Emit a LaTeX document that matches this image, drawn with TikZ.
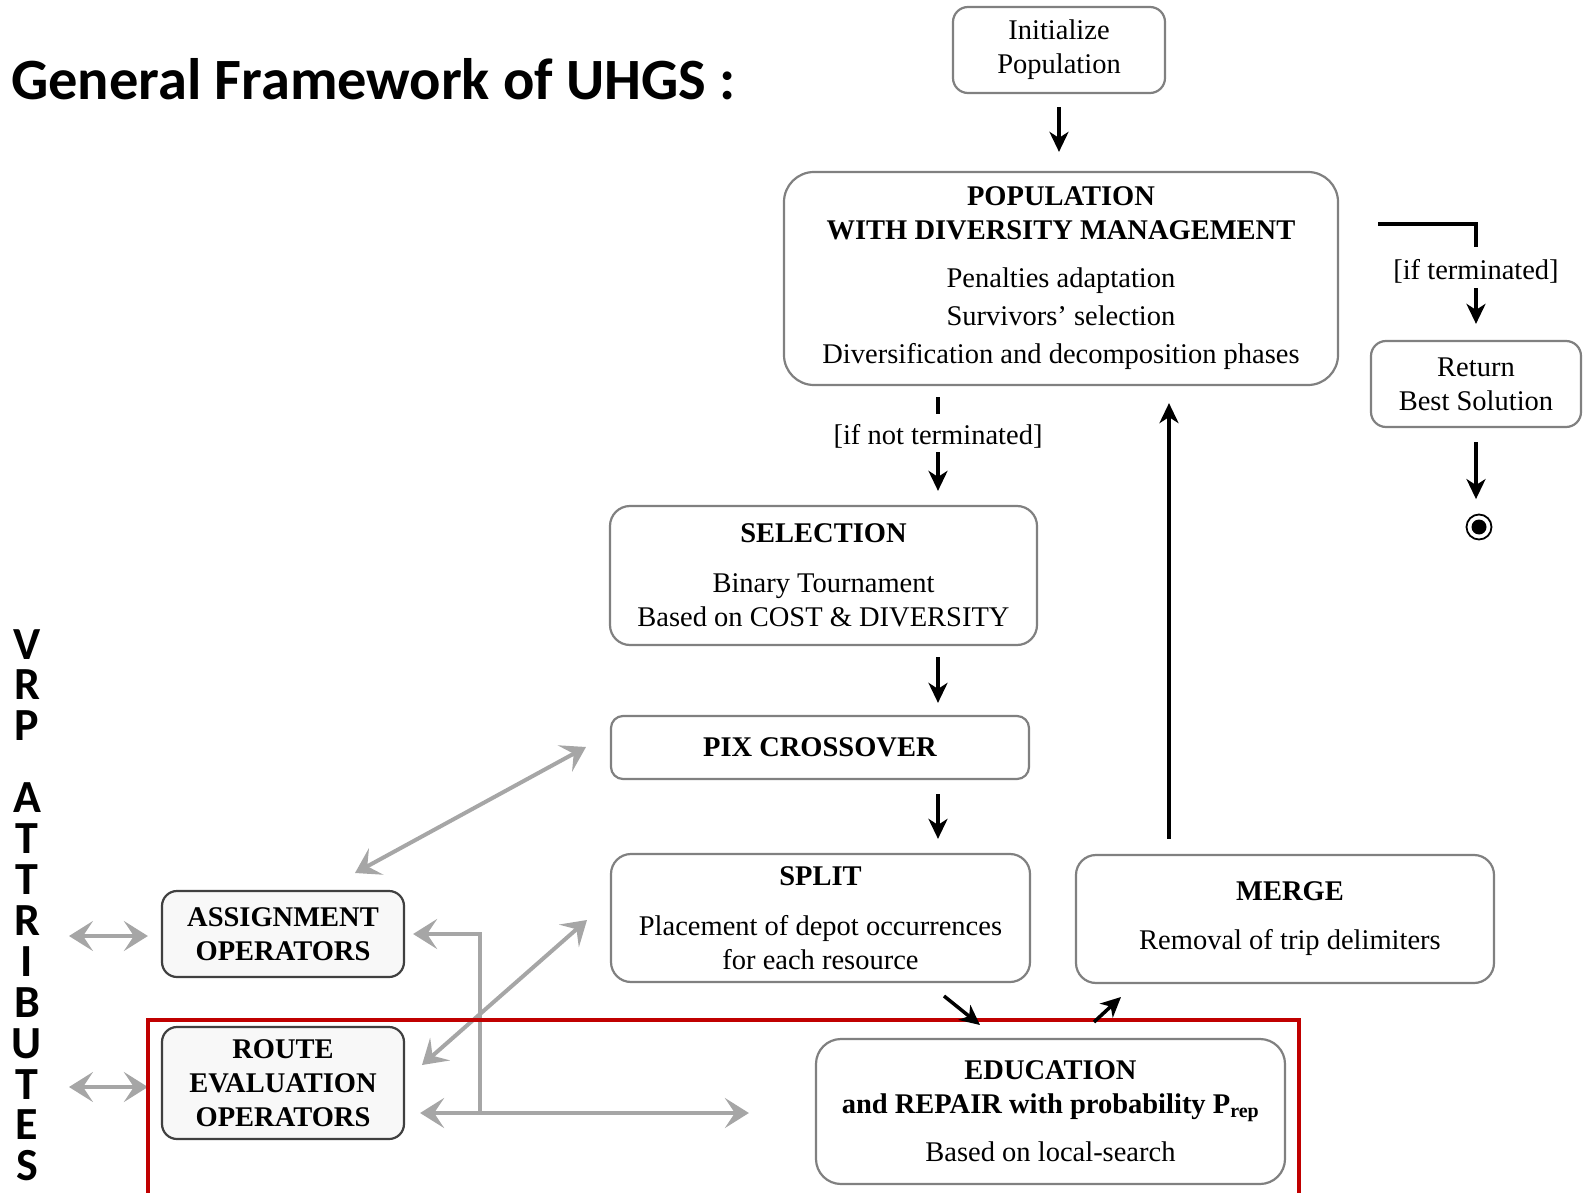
\documentclass[tikz,border=0pt]{standalone}
\usepackage{fontspec}
\setmainfont{Liberation Serif}
\newfontfamily\titlefont{Carlito}
\usetikzlibrary{arrows.meta,calc}
\definecolor{grayarrow}{HTML}{A6A6A6}
\definecolor{boxline}{HTML}{808080}
\definecolor{opline}{HTML}{404040}
\definecolor{redframe}{HTML}{C00000}
\definecolor{opfill}{HTML}{F8F8F8}
\begin{document}
\begin{tikzpicture}[x=1pt,y=-1pt,
  box/.style={draw=boxline, line width=2.2pt, rounded corners=20pt, align=center, inner sep=0pt,
    font=\fontsize{28.5}{34}\selectfont},
  opbox/.style={box, draw=opline, fill=opfill, rounded corners=15pt},
  lbl/.style={font=\fontsize{28.5}{34}\selectfont, fill=white, inner xsep=1pt, inner ysep=0pt, text depth=8pt},
  blk/.style={draw=black, line width=3.5pt, -{Stealth[length=20pt,width=19pt,inset=6pt]}},
  garr/.style={draw=grayarrow, line width=4pt, arrows={-Stealth[length=24pt,width=30pt,inset=10pt]}},
  gboth/.style={garr, arrows={Stealth[length=24pt,width=30pt,inset=10pt]-Stealth[length=24pt,width=30pt,inset=10pt]}}
]
\useasboundingbox (0,0) rectangle (1583,1193);

% title
\node[anchor=base west, inner sep=0pt, font=\titlefont\bfseries\fontsize{58.5}{60}\selectfont] (title) at (11,100) {General Framework of UHGS :};

% vertical text
\node[anchor=base, inner sep=0pt] (vrp) at (27,659)
  {\parbox[t]{40pt}{\centering\titlefont\bfseries\fontsize{46}{40.9}\selectfont
   V\\R\\P\\[31pt]A\\T\\T\\R\\I\\B\\U\\T\\E\\S}};

% boxes
\node[box, rounded corners=15pt, minimum width=212pt, minimum height=86pt] (init) at (1059,50) {Initialize\\Population};
\node[box, rounded corners=30pt, minimum width=554pt, minimum height=213pt] (pop) at (1061,278.5)
  {\textbf{POPULATION}\\\textbf{WITH DIVERSITY MANAGEMENT}\\[14pt]Penalties adaptation\\[4pt]Survivors’ selection\\[4pt]Diversification and decomposition phases};
\node[box, rounded corners=15pt, minimum width=210pt, minimum height=86pt] (ret) at (1476,384) {Return\\Best Solution};
\node[box, minimum width=427pt, minimum height=139pt] (sel) at (823.5,575.5)
  {\textbf{SELECTION}\\[16pt]Binary Tournament\\Based on COST \& DIVERSITY};
\node[box, rounded corners=12pt, minimum width=418pt, minimum height=63pt] (pix) at (820,747.5) {\textbf{PIX CROSSOVER}};
\node[box, minimum width=419pt, minimum height=128pt] (split) at (820.5,918)
  {\textbf{SPLIT}\\[16pt]Placement of depot occurrences\\for each resource};
\node[box, minimum width=418pt, minimum height=128pt] (merge) at (1285,919)
  {\hspace*{10pt}\textbf{MERGE}\\[15pt]\hspace*{10pt}Removal of trip delimiters};
\node[box, rounded corners=25pt, minimum width=469pt, minimum height=145pt] (edu) at (1050.5,1111.5)
  {\textbf{EDUCATION}\\\textbf{and REPAIR with probability P\textsubscript{rep}}\\[14pt]Based on local-search};
\node[opbox, minimum width=242pt, minimum height=86pt] (assign) at (283,934)
  {\textbf{ASSIGNMENT}\\\textbf{OPERATORS}};
\node[opbox, minimum width=242pt, minimum height=112pt] (route) at (283,1083)
  {\textbf{ROUTE}\\\textbf{EVALUATION}\\\textbf{OPERATORS}};

% end symbol
\node[circle, draw=black, line width=1.8pt, minimum size=25pt, inner sep=0pt] (fin) at (1479,527) {};
\fill[black] (fin.center) circle (7.5pt);

% black connectors
\coordinate (cx1) at (938,0);
\coordinate (cx2) at (1169,0);
\coordinate (tstart) at (1378,224);
\draw[blk, shorten <=13pt, shorten >=19pt] (init.south) -- (init.south |- pop.north);
\draw[blk, shorten <=11pt, shorten >=14pt] (pop.south -| cx1) --
  node[lbl, pos=0.397, text height=30pt] (nt) {[if not terminated]} (sel.north -| cx1);
\draw[blk, shorten >=16pt] (tstart) -|
  node[lbl, pos=0.686, text height=33pt] (te) {[if terminated]} (ret.north);
\draw[blk, shorten <=14pt, shorten >=14.5pt] (ret.south) -- (ret.south |- fin.north);
\draw[blk, shorten <=11pt, shorten >=12pt] (sel.south -| cx1) -- (pix.north -| cx1);
\draw[blk, shorten <=14pt, shorten >=14pt] (pix.south -| cx1) -- (split.north -| cx1);
\draw[blk, shorten <=15pt, shorten >=17pt] (merge.north -| cx2) -- (pop.south -| cx2);

% gray connectors
\coordinate (g1) at (69,936);
\coordinate (g2) at (69,1087);
\coordinate (d1) at (355,873);
\coordinate (d2) at (586,747);
\coordinate (e1) at (422,1065);
\coordinate (e2) at (587,920);
\coordinate (j) at (480,1113);
\draw[gboth, shorten >=13pt] (g1) -- (assign.west |- g1);
\draw[gboth, shorten >=13pt] (g2) -- (route.west |- g2);
\draw[gboth] (d1) -- (d2);
\draw[gboth] (e1) -- (e2);
\draw[garr, shorten >=8pt] (j) |- (assign.east);
\draw[gboth, shorten <=15pt, shorten >=66pt] (route.east |- j) -- (edu.west |- j);

% red frame
\draw[redframe, line width=4pt] (148,1200) -- (148,1020) -- (1299,1020) -- (1299,1200);

% small black arrows around education
\coordinate (a1) at (944,996);
\coordinate (a2) at (980,1025);
\coordinate (b1) at (1094,1022);
\coordinate (b2) at (1121,997);
\draw[blk] (a1) -- (a2);
\draw[blk] (b1) -- (b2);
\end{tikzpicture}
\end{document}
